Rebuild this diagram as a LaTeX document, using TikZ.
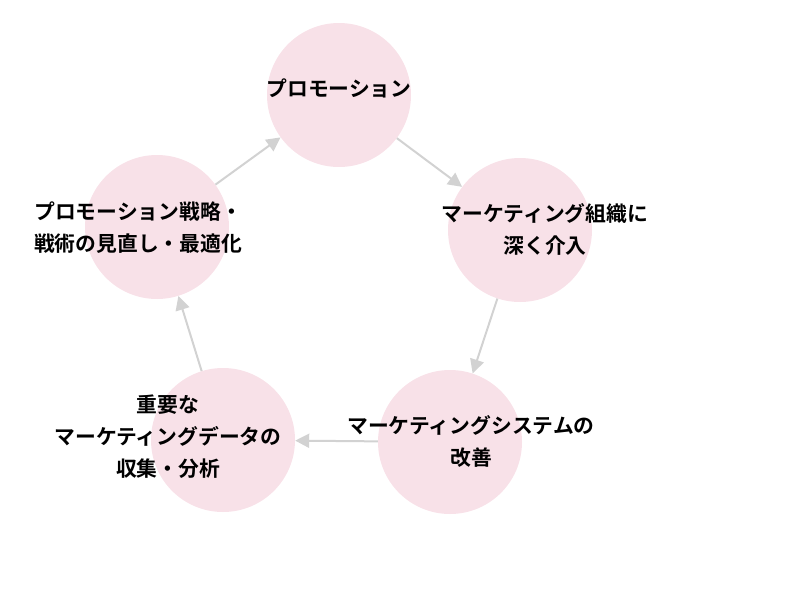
\documentclass[tikz,border=0pt]{standalone}
\usepackage{fontspec}
\setmainfont{Noto Sans CJK JP}[BoldFont={* Bold}]
\usetikzlibrary{arrows.meta}
\definecolor{circfill}{RGB}{248,225,232}
\definecolor{arrowgray}{RGB}{210,210,210}
\tikzset{
  stage/.style={circle, fill=circfill, minimum size=144pt, inner sep=0pt},
  label/.style={align=center, font=\fontsize{20.8pt}{32pt}\selectfont\bfseries, text=black, inner sep=0pt},
  flow/.style={draw=arrowgray, line width=2pt, -{Triangle[length=14pt,width=14pt]}}
}
\begin{document}
\begin{tikzpicture}[x=1pt,y=-1pt]
\useasboundingbox (0,0) rectangle (800,600);
\node[stage] (c1) at (339,95) {};
\node[stage] (c2) at (520,230) {};
\node[stage] (c3) at (450,442) {};
\node[stage] (c4) at (223,440) {};
\node[stage] (c5) at (157,227) {};
\draw[flow] (c1) -- (c2);
\draw[flow] (c2) -- (c3);
\draw[flow] (c3) -- (c4);
\draw[flow] (c4) -- (c5);
\draw[flow] (c5) -- (c1);
\node[label] (t1) at (339,88) {プロモーション};
\node[label] (t2) at (545,229) {マーケティング組織に\\深く介入};
\node[label] (t3) at (471,441) {マーケティングシステムの\\改善};
\node[label] (t4) at (168,437) {重要な\\マーケティングデータの\\収集・分析};
\node[label] (t5) at (138,228) {プロモーション戦略・\\戦術の見直し・最適化};
\end{tikzpicture}
\end{document}
